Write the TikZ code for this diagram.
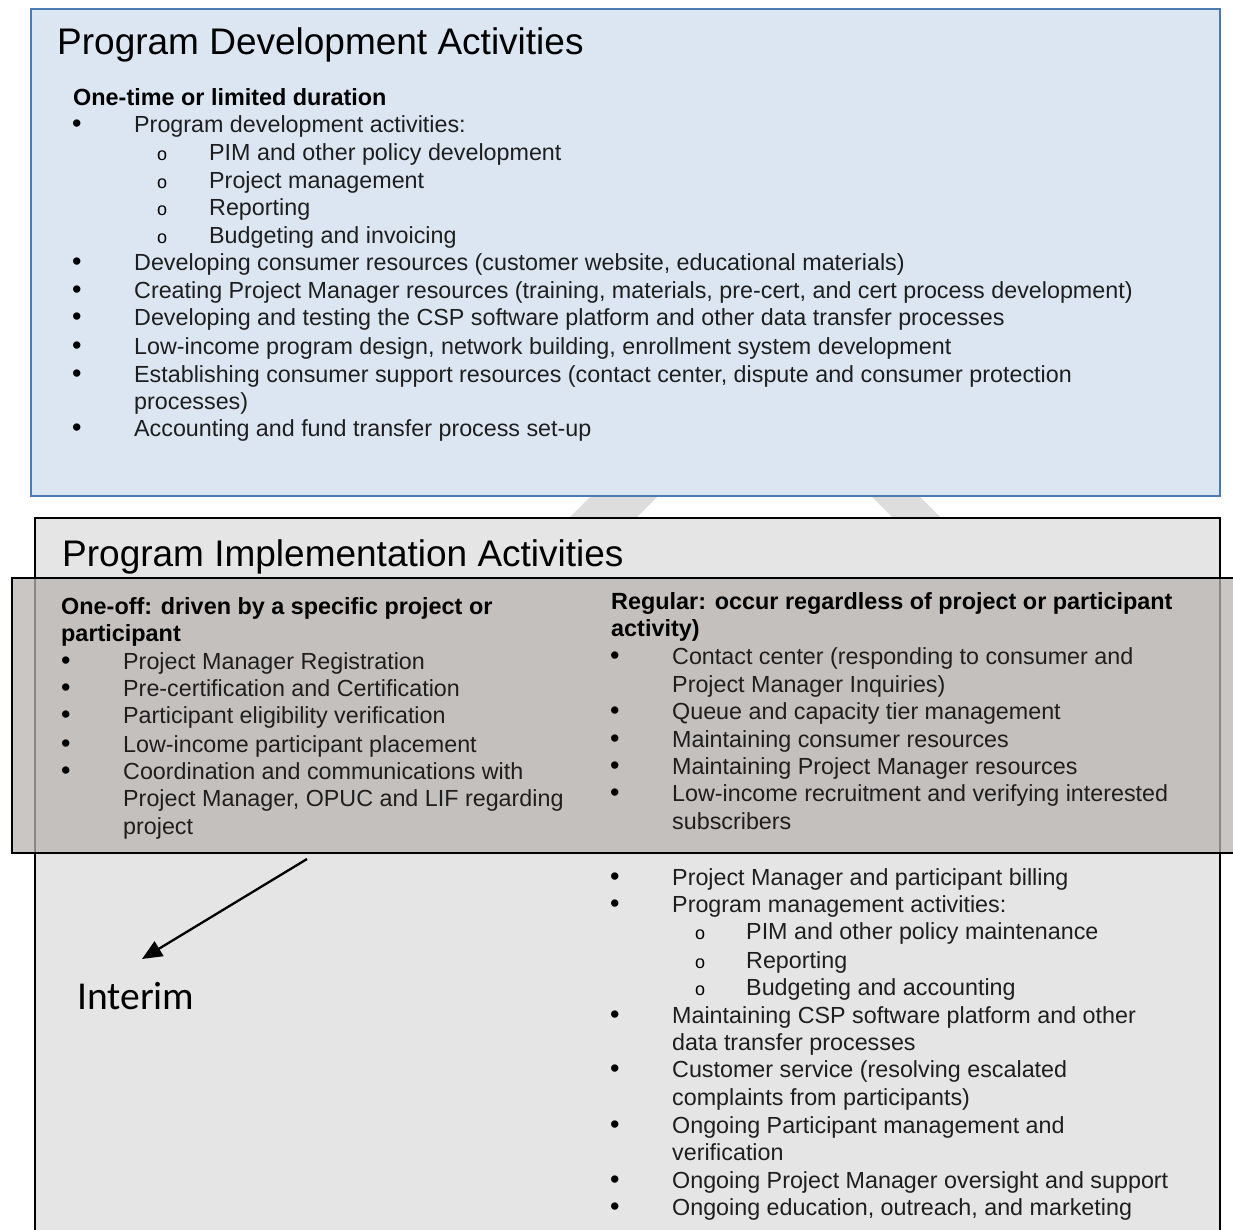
\documentclass[tikz,border=0pt]{standalone}
\usepackage{fontspec}
\setmainfont{Liberation Sans}
\newfontfamily\calib{Carlito}
\usetikzlibrary{arrows.meta}
\definecolor{topfill}{RGB}{220,230,242}
\definecolor{topline}{RGB}{74,122,176}
\definecolor{lowfill}{RGB}{229,229,229}
\definecolor{bandfill}{RGB}{185,180,177}
\definecolor{chev}{RGB}{221,221,221}
\definecolor{txtc}{RGB}{30,30,30}
\tikzset{
 body/.style={inner sep=0pt, anchor=base west, font=\fontsize{23.3}{27}\selectfont, text=txtc},
 bul/.style={inner sep=0pt, anchor=base west, font=\fontsize{27}{27}\selectfont, text=black},
 sub/.style={inner sep=0pt, anchor=base west, font=\fontsize{18}{27}\selectfont, text=black},
 head/.style={inner sep=0pt, anchor=base west, font=\fontsize{23.4}{27}\selectfont\bfseries, text=black},
 ttl/.style={inner sep=0pt, anchor=base west, font=\fontsize{37}{44}\selectfont, text=black},
 panel/.style={line width=2.5pt},
}
% bullet item: name, bullet x, text x, baseline y, text
\newcommand\li[5]{\node[bul] (#1d) at (#2,#4) {•}; \node[body] (#1) at (#3,#4) {#5};}
\newcommand\si[5]{\node[sub] (#1d) at (#2,#4) {o}; \node[body] (#1) at (#3,#4) {#5};}
\newcommand\ct[4]{\node[body] (#1) at (#2,#3) {#4};}
\begin{document}
\begin{tikzpicture}[x=1pt,y=-1pt]
\useasboundingbox (0,0) rectangle (1233,1230);
\fill[white] (0,0) rectangle (1233,1230);
% background chevron
\fill[chev] (547,540) -- (755,332) -- (963,540) -- (915,540) -- (764.5,389.5) -- (614,540) -- cycle;
% top panel
\path[panel, fill=topfill, draw=topline] (31,9) rectangle (1220,496);
% lower panel
\path[panel, fill=lowfill, draw=black] (35,518) rectangle (1220,1245);
% band
\path[line width=2.2pt, fill=bandfill, fill opacity=0.75, draw=black] (12,578) rectangle (1250,853);

% titles
\node[ttl] (t1) at (57,55) {Program Development Activities};
\node[ttl] (t2) at (62,566) {Program Implementation Activities};

% top panel content
\node[head] (h1) at (73,106) {One-time or limited duration};
\li{a1}{72}{134}{133}{Program development activities:}
\si{a2}{157}{209}{161}{PIM and other policy development}
\si{a3}{157}{209}{189}{Project management}
\si{a4}{157}{209}{216}{Reporting}
\si{a5}{157}{209}{244}{Budgeting and invoicing}
\li{a6}{72}{134}{271}{Developing consumer resources (customer website, educational materials)}
\li{a7}{72}{134}{299}{Creating Project Manager resources (training, materials, pre-cert, and cert process development)}
\li{a8}{72}{134}{326}{Developing and testing the CSP software platform and other data transfer processes}
\li{a9}{72}{134}{354}{Low-income program design, network building, enrollment system development}
\li{a10}{72}{134}{382}{Establishing consumer support resources (contact center, dispute and consumer protection}
\ct{a10b}{134}{409}{processes)}
\li{a11}{72}{134}{436}{Accounting and fund transfer process set-up}

% band left column
\node[head] (h2) at (61,614) {One-off: driven by a specific project or};
\node[head] (h2b) at (61,641) {participant};
\li{b1}{61}{123}{669}{Project Manager Registration}
\li{b2}{61}{123}{696}{Pre-certification and Certification}
\li{b3}{61}{123}{723}{Participant eligibility verification}
\li{b4}{61}{123}{752}{Low-income participant placement}
\li{b5}{61}{123}{779}{Coordination and communications with}
\ct{b5b}{123}{806}{Project Manager, OPUC and LIF regarding}
\ct{b5c}{123}{834}{project}

% band right column
\node[head] (h3) at (611,609) {Regular: occur regardless of project or participant};
\node[head] (h3b) at (611,636) {activity)};
\li{c1}{610}{672}{664}{Contact center (responding to consumer and}
\ct{c1b}{672}{692}{Project Manager Inquiries)}
\li{c2}{610}{672}{719}{Queue and capacity tier management}
\li{c3}{610}{672}{747}{Maintaining consumer resources}
\li{c4}{610}{672}{774}{Maintaining Project Manager resources}
\li{c5}{610}{672}{801}{Low-income recruitment and verifying interested}
\ct{c5b}{672}{829}{subscribers}

% below band, right column
\li{d1}{610}{672}{885}{Project Manager and participant billing}
\li{d2}{610}{672}{912}{Program management activities:}
\si{d3}{695}{746}{939}{PIM and other policy maintenance}
\si{d4}{695}{746}{968}{Reporting}
\si{d5}{695}{746}{995}{Budgeting and accounting}
\li{d6}{610}{672}{1023}{Maintaining CSP software platform and other}
\ct{d6b}{672}{1050}{data transfer processes}
\li{d7}{610}{672}{1077}{Customer service (resolving escalated}
\ct{d7b}{672}{1105}{complaints from participants)}
\li{d8}{610}{672}{1133}{Ongoing Participant management and}
\ct{d8b}{672}{1160}{verification}
\li{d9}{610}{672}{1188}{Ongoing Project Manager oversight and support}
\li{d10}{610}{672}{1215}{Ongoing education, outreach, and marketing}

% interim
\node[inner sep=0pt, anchor=base west, font=\calib\fontsize{39.5}{44}\selectfont] (interim) at (77,1009) {Interim};
\coordinate (arrS) at (307,859);
\coordinate (arrE) at (142,959);
\draw[line width=2.3pt, -{Triangle[length=20pt,width=17pt]}] (arrS) -- (arrE);
\end{tikzpicture}
\end{document}
